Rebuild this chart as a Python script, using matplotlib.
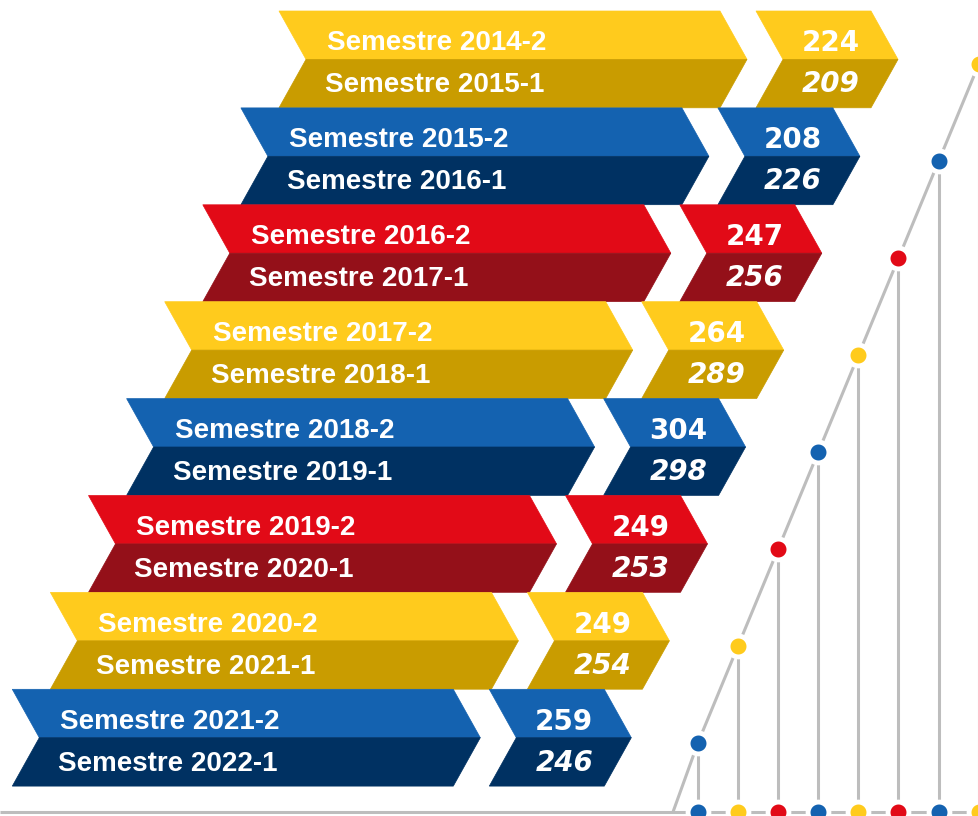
import matplotlib
matplotlib.use("Agg")
import matplotlib.pyplot as plt
from matplotlib.patches import Polygon

# semesters, top and bottom half of each band
sem_top = ["Semestre 2014-2", "Semestre 2015-2", "Semestre 2016-2", "Semestre 2017-2",
           "Semestre 2018-2", "Semestre 2019-2", "Semestre 2020-2", "Semestre 2021-2"]
sem_bottom = ["Semestre 2015-1", "Semestre 2016-1", "Semestre 2017-1", "Semestre 2018-1",
              "Semestre 2019-1", "Semestre 2020-1", "Semestre 2021-1", "Semestre 2022-1"]
val_top = [224, 208, 247, 264, 304, 249, 249, 259]
val_bottom = [209, 226, 256, 289, 298, 253, 254, 246]
row_theme = ["yellow", "blue", "red", "yellow", "blue", "red", "yellow", "blue"]

palette = {
    "yellow": ("#FFCB1D", "#C99C00"),
    "blue": ("#1462B0", "#003162"),
    "red": ("#E20A17", "#941019"),
}
GRAY = "#BDBDBD"

W, H = 979, 816
fig = plt.figure(figsize=(W / 100, H / 100), dpi=100)
ax = fig.add_axes([0, 0, 1, 1])
ax.set_xlim(0, W)
ax.set_ylim(H, 0)
ax.axis("off")

top0, step, half = 11, 96.9, 48.4
left0, shift = 279, 38.1
notch = 27


def chevron(x0, x1, ytop, ymid, ybot, c_top, c_bot):
    # top half and bottom half of an arrow band
    ax.add_patch(Polygon([(x0, ytop), (x1, ytop), (x1 + notch, ymid), (x0 + notch, ymid)],
                         closed=True, fc=c_top, ec=c_top, lw=0.5))
    ax.add_patch(Polygon([(x0 + notch, ymid), (x1 + notch, ymid), (x1, ybot), (x0, ybot)],
                         closed=True, fc=c_bot, ec=c_bot, lw=0.5))


for i in range(len(sem_top)):
    ytop = top0 + i * step
    ymid = ytop + half
    ybot = ytop + 2 * half
    x0 = left0 - i * shift
    c_top, c_bot = palette[row_theme[i]]

    chevron(x0, x0 + 441, ytop, ymid, ybot, c_top, c_bot)
    chevron(x0 + 477, x0 + 592, ytop, ymid, ybot, c_top, c_bot)

    ax.text(x0 + 48, ymid - 16, sem_top[i], color="white", fontsize=20,
            fontweight="bold", family="Liberation Sans", ha="left", va="center")
    ax.text(x0 + 46, ymid + 26, sem_bottom[i], color="white", fontsize=20,
            fontweight="bold", family="Liberation Sans", ha="left", va="center")
    ax.text(x0 + 552, ymid - 16, str(val_top[i]), color="white", fontsize=20,
            fontweight="bold", family="DejaVu Sans", ha="center", va="center")
    ax.text(x0 + 552, ymid + 25, str(val_bottom[i]), color="white", fontsize=20,
            fontweight="bold", style="italic", family="DejaVu Sans",
            ha="center", va="center")

# timeline at the bottom right
base_y = 812
ax.plot([0, W], [base_y, base_y], color=GRAY, lw=2.2, zorder=1, solid_capstyle="butt")

n = len(sem_top)
dot_x = [698 + 40.1 * k for k in range(n)]
dot_y = [top0 + (n - 1 - k) * step + half + 5 for k in range(n)]
ax.plot([673] + dot_x, [base_y] + dot_y, color=GRAY, lw=2.2, zorder=1)
for k in range(n):
    ax.plot([dot_x[k], dot_x[k]], [dot_y[k], base_y], color=GRAY, lw=2.2, zorder=1)
    col = palette[row_theme[n - 1 - k]][0]
    for yy in (dot_y[k], base_y):
        ax.plot(dot_x[k], yy, "o", ms=15, mfc=col, mec="white", mew=3.5, zorder=3,
                clip_on=False)

fig.savefig("out.png", dpi=100)
